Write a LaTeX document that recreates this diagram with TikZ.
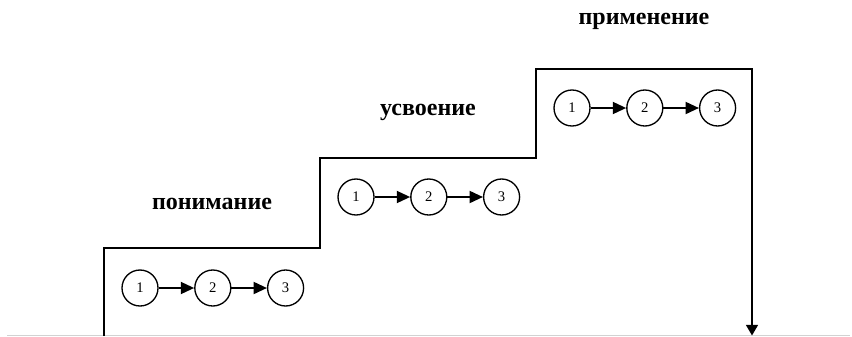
\documentclass[tikz,border=0pt]{standalone}
\usepackage{fontspec}
\setmainfont{Liberation Serif}
\usetikzlibrary{positioning, arrows.meta}

\begin{document}
\begin{tikzpicture}[x=0.75pt, y=-0.75pt, node distance=26.6pt,
  stage/.style={circle, draw, line width=1pt, minimum size=27pt, inner sep=0pt,
    font=\fontsize{11}{11}\selectfont},
  title/.style={font=\fontsize{18}{18}\selectfont\bfseries},
  link/.style={line width=1.4pt, -{Triangle[length=10pt, width=9pt]}}]
\useasboundingbox (0,0) rectangle (852,336);
\draw[gray!35, line width=0.8pt] (7,335.5) -- (850,335.5);

% staircase
\coordinate (s0) at (104,336);
\coordinate (s1) at (320,248);
\coordinate (s2) at (536,158);
\coordinate (s3) at (752,69);
\coordinate (s4) at (752,335.5);
\draw[line width=1.1pt, -{Triangle[length=8pt, width=9pt]}]
  (s0) |- (s1) |- (s2) |- (s3) -- (s4);

% first step
\node[title] (under) at (212,204) {понимание};
\node[stage] (u1) at (140,288) {1};
\node[stage, right=of u1] (u2) {2};
\node[stage, right=of u2] (u3) {3};
\draw[link] (u1) -- (u2);
\draw[link] (u2) -- (u3);

% second step
\node[title] (learn) at (428,112) {усвоение};
\node[stage] (l1) at (356,197) {1};
\node[stage, right=of l1] (l2) {2};
\node[stage, right=of l2] (l3) {3};
\draw[link] (l1) -- (l2);
\draw[link] (l2) -- (l3);

% third step
\node[title] (apply) at (644,21) {применение};
\node[stage] (a1) at (572,108) {1};
\node[stage, right=of a1] (a2) {2};
\node[stage, right=of a2] (a3) {3};
\draw[link] (a1) -- (a2);
\draw[link] (a2) -- (a3);
\end{tikzpicture}
\end{document}
